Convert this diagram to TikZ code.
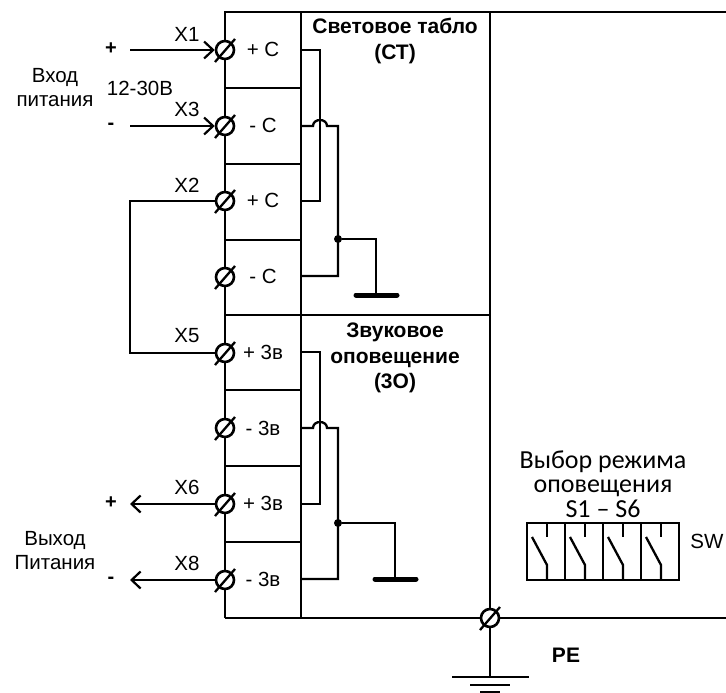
\documentclass[tikz,border=0pt]{standalone}
\usepackage{fontspec}
\setmainfont{Liberation Sans}
\newfontfamily\calfont{Carlito}
\usetikzlibrary{arrows.meta,calc}
\tikzset{
  wire/.style={line width=2.7pt,line join=miter},
  thin wire/.style={line width=2.3pt},
  barbed/.style={line width=2.3pt,-{Straight Barb[length=9pt,width=17pt,line width=2.2pt]}},
  bar/.style={line width=5pt,line cap=round},
  termnode/.style={circle,draw,line width=2.6pt,fill=white,minimum size=18pt,inner sep=0pt},
  lab/.style={font=\fontsize{20.5}{24}\selectfont,inner sep=0pt,align=center},
  blab/.style={font=\fontsize{21}{25.5}\selectfont\bfseries,inner sep=0pt,align=center},
  sym/.style={font=\fontsize{20}{24}\selectfont\bfseries,inner sep=0pt},
  callab/.style={font=\fontsize{26}{24.5}\selectfont\calfont,inner sep=0pt,align=center},
  junction/.style={circle,fill=black,minimum size=8pt,inner sep=0pt},
}
\newcommand{\termn}[3]{\node[termnode] (#1) at (#2,#3) {};
  \draw[thin wire] ($(#1.center)+(-10,12)$) -- ($(#1.center)+(10,-11)$);}
\begin{document}
\begin{tikzpicture}[x=1pt,y=-1pt]
\useasboundingbox (0,0) rectangle (726,693);
% frame
\coordinate (tl) at (225,12); \coordinate (tm) at (301,12); \coordinate (tr) at (490,12); \coordinate (te) at (726,12);
\coordinate (bl) at (225,618); \coordinate (bm) at (301,618); \coordinate (br) at (490,618); \coordinate (be) at (726,618);
\draw[wire] (bl) -- (tl) -- (te);
\draw[wire] (tm) -- (bm);
\draw[wire] (tr) -- (br);
\draw[wire] (bl) -- (be);
\foreach \y in {88,164,240,390,466,542} \draw[wire] (225,\y) -- (301,\y);
\draw[wire] (225,315) -- (490,315);
% internal wiring upper
\coordinate (a1) at (301,50); \coordinate (a2) at (301,126); \coordinate (a3) at (301,201); \coordinate (a4) at (301,276);
\node[junction] (ju) at (338,239) {};
\draw[thin wire] (a1) -- (320,50) -- (320,201) -- (a3);
\draw[thin wire] (a2) -- (313,126) .. controls (313,118) and (327,118) .. (327,126) -- (338,126) -- (338,276) -- (a4);
\coordinate (gu) at (376,295); \coordinate (gul) at (356,295); \coordinate (gur) at (397,295);
\draw[thin wire] (ju) -- (376,239) -- (gu);
\draw[bar] (gul) -- (gur);
% internal wiring lower
\coordinate (b1) at (301,352); \coordinate (b2) at (301,428); \coordinate (b3) at (301,504); \coordinate (b4) at (301,579);
\node[junction] (jl) at (338,523) {};
\draw[thin wire] (b1) -- (320,352) -- (320,504) -- (b3);
\draw[thin wire] (b2) -- (313,428) .. controls (313,420) and (327,420) .. (327,428) -- (338,428) -- (338,579) -- (b4);
\coordinate (gl) at (395,579); \coordinate (gll) at (375,579); \coordinate (glr) at (416,579);
\draw[thin wire] (jl) -- (395,523) -- (gl);
\draw[bar] (gll) -- (glr);
% PE ground
\coordinate (pe) at (490,677);
\draw[wire] (br) -- (pe);
\coordinate (p1) at (452,677); \coordinate (p2) at (529,677);
\draw[wire] (p1) -- (p2);
\coordinate (p3) at (470,685); \coordinate (p4) at (510,685);
\draw[wire] (p3) -- (p4);
\coordinate (p5) at (480,692); \coordinate (p6) at (500,692);
\draw[wire] (p5) -- (p6);
% terminals
\termn{t1}{225}{50}\termn{t2}{225}{126}\termn{t3}{225}{201}\termn{t4}{225}{277}
\termn{t5}{225}{353}\termn{t6}{225}{428}\termn{t7}{225}{504}\termn{t8}{225}{580}
\termn{tp}{490}{618}
% external wiring
\coordinate (in1) at (130,50); \coordinate (in2) at (130,126);
\coordinate (out1) at (130,504); \coordinate (out2) at (130,580);
\coordinate (lo1) at (130,201); \coordinate (lo2) at (130,353);
\draw[barbed] (in1) -- (t1.west);
\draw[barbed] (in2) -- (t2.west);
\draw[barbed] (t7.west) -- (out1);
\draw[barbed] (t8.west) -- (out2);
\draw[thin wire] (t3.west) -- (lo1) -- (lo2) -- (t5.west);
% terminal labels
\foreach \n/\x/\y/\t in {c1/263/49/+ С,c2/263/125/- С,c3/263/200/+ С,c4/263/276/- С,
  c5/263/352/+ 3в,c6/263/428/- 3в,c7/263/503/+ 3в,c8/263/579/- 3в}
  \node[lab] (\n) at (\x,\y) {\t};
\foreach \n/\y/\t in {x1/34/X1,x3/109/X3,x2/185/X2,x5/336/X5,x6/487/X6,x8/563/X8}
  \node[lab] (\n) at (187,\y) {\t};
% signs
\node[sym] (s1) at (111,49) {+};
\node[sym] (s2) at (111,126) {-};
\node[sym] (s3) at (111,503) {+};
\node[sym] (s4) at (111,580) {-};
\node[lab] (v12) at (140,88) {12-30В};
\node[lab] (vh) at (55,88) {Вход\\питания};
\node[lab] (vy) at (55,551) {Выход\\Питания};
\node[blab] (st) at (395,41) {Световое табло\\(СТ)};
\node[blab] (zo) at (395,358) {Звуковое\\оповещение\\(3О)};
\node[blab] (pelab) at (566,655) {PE};
\node[callab] (sel) at (603,484) {Выбор режима\\оповещения\\S1 – S6};
\node[lab] (sw) at (707,541) {SW};
% switch block
\draw[wire] (527,523) rectangle (679,580);
\foreach \i in {0,1,2,3}{
  \pgfmathsetmacro{\xa}{527+38*\i}
  \pgfmathsetmacro{\xb}{547+38*\i}
  \pgfmathsetmacro{\xc}{532+38*\i}
  \ifnum\i>0 \draw[wire] (\xa,523) -- (\xa,580); \fi
  \draw[thin wire] (\xb,523) -- (\xb,537);
  \draw[thin wire] (\xc,537) -- (\xb,565) -- (\xb,580);
}
\end{tikzpicture}
\end{document}
